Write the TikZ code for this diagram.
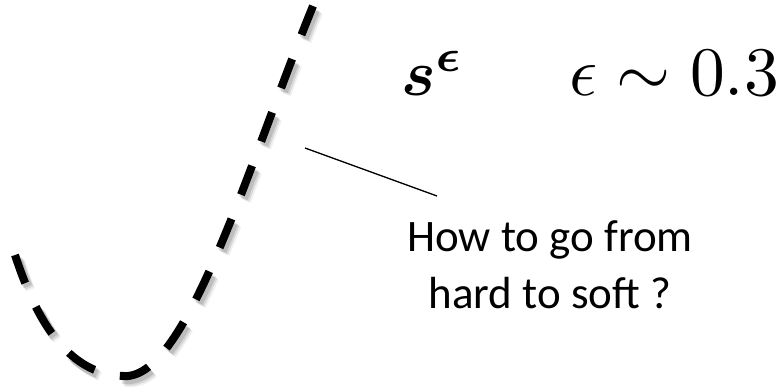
\documentclass[tikz,border=0pt]{standalone}
\usepackage{graphicx}
\usepackage{fontspec}
\usepackage{amsmath,bm}
\newfontfamily\carl{Carlito}
\tikzset{
  curvedash/.style={line width=8pt, dash pattern=on 31pt off 26pt},
  shadowdash/.style={line width=9pt, dash pattern=on 31pt off 26pt, black},
  leader/.style={line width=1.3pt},
  note/.style={font=\carl\fontsize{45}{57}\selectfont, align=center, inner sep=0pt},
  mathlbl/.style={inner sep=0pt, anchor=base west}
}
\begin{document}
\begin{tikzpicture}[x=1pt,y=-1pt]
\useasboundingbox (0,0) rectangle (782,388);
% shadow of dashed curve
\foreach \dx/\dy/\op in {2.5/3.5/0.12, 4/5/0.10, 5.5/6.5/0.06}{
  \draw[shadowdash, opacity=\op, shift={(\dx,\dy)}]
    (313,6) .. controls (250,160) and (190,370) .. (128,376)
            .. controls (60,378) and (30,300) .. (15,255);
}
% dashed curve
\draw[curvedash]
  (313,6) .. controls (250,160) and (190,370) .. (128,376)
          .. controls (60,378) and (30,300) .. (15,255);
% labels
\node[mathlbl] (sym) at (401,95) {\scalebox{6.5}{$\bm{s}^{\bm{\epsilon}}$}};
\node[mathlbl] (eps) at (569,95) {\scalebox{6.95}{$\epsilon\sim0.3$}};
\node[note, anchor=north] (q) at (550,220) {How to go from\\hard to soft ?};
\coordinate (la) at (305,148);
\coordinate (lb) at (437,196);
\draw[leader] (la) -- (lb);
\end{tikzpicture}
\end{document}
